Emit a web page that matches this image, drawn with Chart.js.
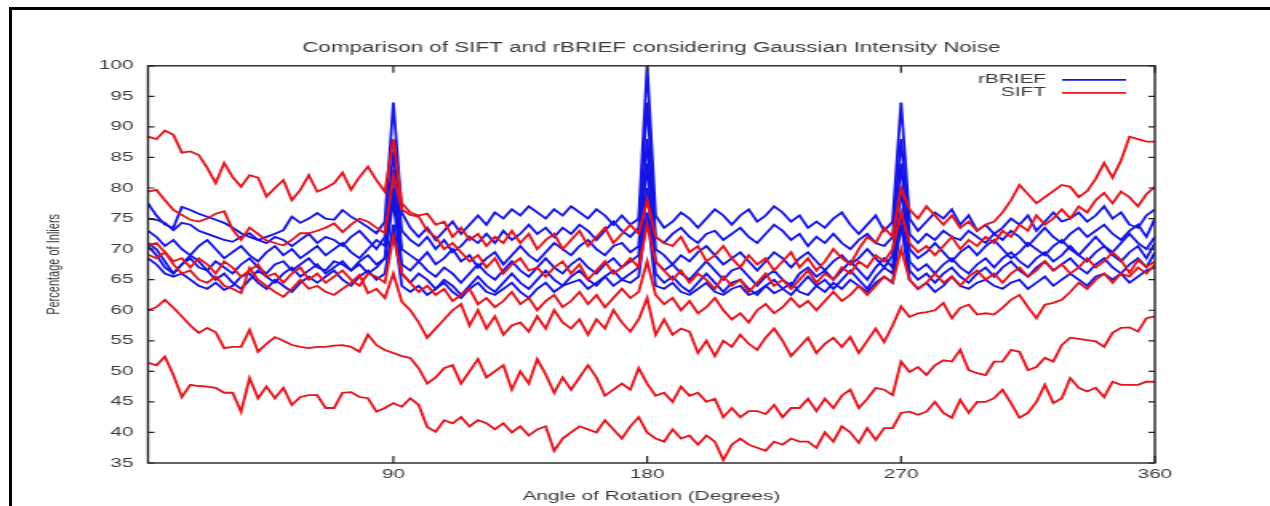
<!DOCTYPE html>
<html lang="en">
<head>
<meta charset="UTF-8">
<title>SIFT vs rBRIEF</title>
<script src="https://cdn.jsdelivr.net/npm/chart.js@4.4.1/dist/chart.umd.min.js"></script>
<style>
  html, body { margin: 0; padding: 0; background: #fff; overflow: hidden; }
  #wrap { position: relative; width: 1270px; height: 506px; }
  #canvas { position: absolute; left: 0; top: 0; }
  #frame { position: absolute; left: 9px; top: 7px; width: 1300px; height: 520px;
           border-left: 3px solid #000; border-top: 3px solid #000; pointer-events: none; }
</style>
</head>
<body>
<div id="wrap">
  <!-- drawn at 794px wide and stretched to 1270px, like the squeezed original -->
  <canvas id="canvas" width="794" height="506" style="width:1270px;height:506px;"></canvas>
  <div id="frame"></div>
</div>
<script>
const angles = [
  3, 6, 9, 12, 15, 18, 21, 24, 27, 30,
  33, 36, 39, 42, 45, 48, 51, 54, 57, 60,
  63, 66, 69, 72, 75, 78, 81, 84, 87, 90,
  93, 96, 99, 102, 105, 108, 111, 114, 117, 120,
  123, 126, 129, 132, 135, 138, 141, 144, 147, 150,
  153, 156, 159, 162, 165, 168, 171, 174, 177, 180,
  183, 186, 189, 192, 195, 198, 201, 204, 207, 210,
  213, 216, 219, 222, 225, 228, 231, 234, 237, 240,
  243, 246, 249, 252, 255, 258, 261, 264, 267, 270,
  273, 276, 279, 282, 285, 288, 291, 294, 297, 300,
  303, 306, 309, 312, 315, 318, 321, 324, 327, 330,
  333, 336, 339, 342, 345, 348, 351, 354, 357, 360
]

const xTicks = [90, 180, 270, 360]
const legendNames = ['rBRIEF', 'SIFT']

// SIFT runs, top to bottom
const sift1 = [
  88.4, 88.0, 89.4, 88.7, 85.8, 86.0, 85.4, 83.3, 80.8, 84.1,
  81.8, 80.2, 82.1, 81.7, 78.6, 80.0, 81.3, 78.0, 79.7, 82.1,
  79.4, 80.0, 80.8, 82.5, 79.7, 81.8, 83.5, 81.3, 79.4, 88.0,
  77.5, 76.0, 75.5, 75.8, 74.0, 74.5, 72.0, 73.5, 71.5, 72.5,
  70.5, 72.0, 71.0, 73.0, 71.0, 72.5, 70.0, 71.5, 72.5, 70.0,
  71.5, 73.0, 70.5, 72.0, 73.5, 71.0, 72.5, 74.0, 72.5, 78.0,
  72.0, 71.0, 70.5, 72.0, 69.5, 70.5, 68.0, 69.0, 70.5, 68.5,
  67.0, 69.0, 67.5, 68.5, 66.5, 68.0, 69.5, 67.0, 68.5, 66.5,
  68.0, 70.0, 68.5, 67.5, 70.0, 72.0, 71.0, 73.5, 72.0, 80.0,
  76.5, 75.0, 77.0, 75.5, 74.0, 75.5, 73.5, 74.5, 73.0, 74.0,
  74.5, 76.0, 78.0, 80.5, 79.0, 77.5, 78.5, 79.5, 80.5, 80.2,
  78.5, 79.5, 81.5, 84.1, 81.7, 84.5, 88.4, 88.0, 87.6, 87.6
]
const sift2 = [
  79.4, 79.7, 78.0, 76.4, 75.6, 74.8, 74.5, 75.0, 75.8, 76.2,
  73.2, 71.5, 73.5, 72.5, 71.4, 71.0, 70.6, 71.5, 72.6, 72.6,
  73.0, 73.5, 74.2, 72.8, 74.0, 75.0, 74.5, 73.5, 72.6, 82.0,
  76.5, 75.6, 75.3, 73.0, 72.0, 70.0, 71.0, 69.5, 68.0, 69.0,
  67.0, 68.5, 66.0, 67.5, 68.5, 66.5, 67.0, 65.5, 67.0, 68.0,
  66.0, 67.5, 65.0, 66.5, 68.0, 66.0, 67.0, 68.5, 67.0, 74.0,
  68.0, 66.5, 65.0, 66.5, 64.5, 66.0, 65.0, 63.5, 65.5, 64.0,
  65.0, 63.0, 64.5, 66.0, 64.0, 65.0, 63.5, 65.0, 66.5, 64.5,
  66.0, 65.0, 67.0, 66.0, 68.0, 67.0, 69.0, 68.0, 70.0, 76.0,
  71.0, 69.5, 70.5, 69.0, 70.5, 72.0, 70.0, 71.5, 70.5, 72.0,
  71.0, 73.0, 72.0, 74.0, 73.0, 75.5, 74.0, 75.0, 76.5, 75.0,
  77.0, 76.0, 78.0, 79.2, 77.5, 79.4, 78.5, 77.0, 79.0, 80.2
]
const sift3 = [
  70.7, 71.0, 69.5, 68.0, 68.5, 67.0, 68.5, 67.5, 66.0, 68.0,
  67.0, 65.5, 66.5, 67.5, 65.5, 66.0, 64.5, 66.0, 67.0, 65.0,
  66.0, 64.5, 65.5, 66.5, 65.0, 64.0, 66.0, 65.5, 64.5, 72.0,
  66.0, 64.5, 63.0, 64.0, 62.5, 63.5, 61.5, 62.5, 63.5, 61.0,
  62.0, 60.5, 61.5, 63.0, 61.0, 62.0, 60.0, 61.5, 62.5, 60.5,
  61.5, 63.0, 61.0, 62.5, 60.5, 62.0, 63.5, 62.0, 63.0, 68.0,
  62.5, 61.0, 62.0, 60.0, 61.5, 59.5, 60.5, 62.0, 60.0, 58.5,
  59.5, 58.0, 60.0, 61.0, 59.5, 60.5, 62.0, 60.5, 61.5, 60.0,
  61.5, 63.0, 61.5, 62.5, 64.0, 62.5, 64.0, 65.5, 64.5, 70.0,
  65.0, 63.5, 64.5, 66.0, 64.5, 65.5, 64.0, 65.5, 66.5, 65.0,
  66.0, 64.5, 66.0, 67.0, 65.5, 66.5, 68.0, 66.5, 67.5, 66.0,
  67.0, 68.5, 67.0, 68.0, 69.5, 68.2, 66.1, 68.2, 67.1, 68.0
]
const sift4 = [
  69.1, 68.5, 69.5, 67.5, 66.0, 66.5, 65.0, 64.5, 65.5, 64.0,
  63.5, 62.8, 66.9, 65.0, 64.0, 63.0, 62.2, 63.5, 65.0, 63.5,
  64.0, 63.0, 62.5, 63.5, 64.5, 65.8, 62.8, 63.5, 62.0, 66.0,
  61.4, 60.0, 58.0, 55.5, 57.0, 58.5, 60.0, 61.0, 57.5, 60.0,
  57.0, 59.0, 56.0, 57.5, 58.0, 56.5, 59.0, 57.0, 60.0, 58.0,
  57.0, 58.5, 56.0, 58.5, 57.0, 60.0, 58.0, 56.5, 58.5, 62.0,
  56.0, 58.5, 56.0, 57.0, 56.5, 53.0, 55.0, 52.5, 55.0, 54.0,
  56.0, 54.5, 53.5, 55.5, 57.0, 55.0, 52.5, 54.0, 55.5, 53.0,
  54.5, 55.5, 54.0, 55.6, 53.0, 55.0, 57.0, 54.8, 57.5, 60.6,
  58.9, 59.5, 59.7, 60.0, 61.2, 58.7, 60.4, 60.9, 59.3, 59.5,
  59.3, 60.4, 61.7, 62.5, 60.5, 58.7, 60.9, 61.2, 61.7, 63.0,
  64.5, 63.5, 65.0, 66.0, 64.5, 66.0, 65.5, 67.0, 66.0, 67.5
]
const sift5 = [
  60.0, 60.5, 61.7, 60.4, 59.0, 57.5, 56.3, 57.1, 56.4, 53.8,
  54.0, 54.0, 56.8, 53.2, 54.5, 55.6, 55.0, 54.3, 54.0, 53.8,
  54.0, 54.0, 54.2, 54.3, 54.0, 53.2, 56.0, 54.3, 53.5, 53.0,
  52.5, 52.2, 50.5, 48.0, 49.0, 50.5, 51.0, 48.0, 50.0, 52.0,
  49.0, 50.0, 51.0, 47.0, 50.0, 48.0, 52.0, 49.5, 46.5, 49.0,
  47.0, 49.0, 51.0, 49.0, 46.0, 47.0, 48.0, 47.0, 50.5, 48.0,
  46.0, 46.5, 45.0, 47.5, 46.0, 46.5, 45.0, 45.5, 42.5, 44.0,
  42.5, 43.5, 43.5, 43.0, 44.5, 42.5, 44.0, 44.0, 45.5, 43.5,
  45.5, 44.0, 46.0, 47.0, 44.0, 45.5, 47.3, 47.0, 46.1, 51.6,
  49.9, 50.7, 49.4, 51.0, 51.8, 51.6, 53.5, 50.2, 49.7, 49.4,
  51.6, 51.6, 53.5, 53.2, 50.2, 50.7, 52.2, 51.6, 54.3, 55.5,
  55.3, 55.1, 54.9, 54.0, 56.3, 57.1, 57.2, 56.5, 58.7, 59.0
]
const sift6 = [
  51.4, 51.0, 52.4, 49.4, 45.8, 47.8, 47.6, 47.5, 47.3, 46.5,
  46.5, 43.4, 48.9, 45.6, 47.5, 45.6, 47.3, 44.5, 45.8, 46.1,
  46.1, 44.0, 44.0, 46.5, 46.6, 45.8, 45.6, 43.4, 44.0, 44.8,
  44.2, 45.6, 44.5, 40.9, 40.1, 42.0, 41.5, 42.5, 41.0, 42.0,
  41.5, 40.5, 41.5, 40.0, 41.0, 39.5, 40.5, 41.0, 37.0, 39.0,
  40.0, 41.0, 40.5, 40.0, 42.0, 40.5, 39.0, 41.0, 42.5, 40.0,
  39.0, 38.5, 40.5, 39.0, 39.5, 38.0, 39.5, 38.5, 35.5, 38.0,
  39.0, 38.0, 37.5, 37.0, 38.5, 38.0, 39.0, 38.5, 38.5, 37.5,
  40.0, 38.5, 41.0, 40.0, 38.3, 40.7, 38.8, 40.7, 40.7, 43.2,
  43.4, 42.9, 43.4, 45.0, 43.2, 42.4, 45.3, 43.2, 45.0, 45.0,
  45.6, 47.0, 44.8, 42.4, 43.2, 45.0, 47.8, 44.8, 45.6, 48.9,
  47.3, 46.7, 47.3, 45.8, 48.3, 47.8, 47.8, 47.8, 48.3, 48.3
]

// rBRIEF runs
const brief1 = [
  77.5, 75.5, 74.0, 73.5, 76.9, 76.4, 75.8, 75.3, 74.8, 74.3,
  73.5, 72.6, 72.0, 71.5, 72.0, 72.5, 73.1, 75.3, 74.3, 75.0,
  75.9, 75.0, 74.8, 76.4, 75.3, 74.5, 73.6, 72.6, 74.5, 94.0,
  76.0, 73.5, 72.0, 73.5, 71.5, 73.0, 74.5, 72.5, 74.0, 75.5,
  74.0, 76.0, 75.0, 76.5, 75.5, 77.0, 76.0, 75.0, 76.5, 75.5,
  77.0, 76.0, 75.0, 76.5, 75.5, 74.0, 75.5, 74.0, 75.0, 100.0,
  75.5, 73.5, 74.5, 76.0, 75.0, 73.5, 75.0, 76.5, 75.5, 74.0,
  75.5, 76.5, 74.5, 75.5, 77.0, 76.0, 74.5, 75.5, 73.5, 74.5,
  73.5, 75.0, 76.0, 74.0, 72.5, 74.0, 75.5, 73.0, 74.5, 94.0,
  75.0, 73.0, 74.5, 76.0, 75.0, 76.5, 74.0, 75.5, 73.0, 74.0,
  72.5, 73.5, 75.0, 74.0, 75.5, 73.0, 74.5, 76.0, 74.5, 75.0,
  76.0, 74.5, 75.5, 77.0, 75.0, 76.0, 74.0, 73.5, 75.5, 76.5
]
const brief2 = [
  75.0, 74.8, 74.3, 73.1, 74.3, 74.0, 73.0, 72.5, 72.0, 71.5,
  71.2, 72.0, 72.6, 71.5, 71.0, 72.0, 71.5, 70.5, 71.5, 72.5,
  71.0, 72.0, 71.5, 70.5, 72.0, 73.0, 71.5, 70.0, 72.0, 86.0,
  73.0, 71.5, 70.5, 72.0, 70.0, 71.5, 69.5, 70.5, 72.0, 71.0,
  72.5, 71.0, 73.0, 71.5, 72.5, 74.0, 72.5, 73.5, 72.0, 73.5,
  72.5, 74.0, 73.0, 71.5, 73.0, 74.5, 73.0, 72.0, 73.5, 94.0,
  72.0, 71.0, 72.5, 73.5, 72.0, 71.0, 72.5, 73.0, 71.5, 72.5,
  73.5, 72.0, 71.0, 72.5, 74.0, 73.0, 71.5, 72.5, 70.5, 72.0,
  71.0, 72.5, 71.0, 70.0, 71.5, 72.5, 71.0, 70.5, 72.0, 88.0,
  72.5, 71.0, 72.5, 71.5, 73.0, 72.0, 71.5, 73.0, 72.0, 71.0,
  72.5, 71.5, 73.0, 72.0, 70.5, 72.0, 73.5, 72.0, 71.0, 72.5,
  73.5, 72.0, 73.0, 74.0, 72.5, 71.5, 73.0, 74.0, 72.0, 75.0
]
const brief3 = [
  73.0, 72.0, 70.5, 71.5, 70.0, 69.0, 70.5, 71.5, 70.0, 68.5,
  69.5, 70.5, 69.0, 68.0, 69.5, 70.5, 69.0, 70.0, 68.5, 69.5,
  70.5, 69.0, 70.0, 71.0, 69.5, 68.5, 70.0, 71.5, 70.5, 83.0,
  70.0, 69.0, 68.0, 69.5, 67.5, 68.5, 70.0, 68.0, 69.0, 67.0,
  68.5, 69.5, 67.5, 69.0, 70.5, 69.0, 68.0, 69.5, 71.0, 70.0,
  69.0, 70.5, 71.5, 70.0, 69.0, 70.5, 71.0, 69.5, 70.5, 88.0,
  70.0, 69.0, 67.5, 69.0, 68.0, 69.5, 70.5, 69.0, 67.5, 68.5,
  69.5, 68.0, 66.5, 68.0, 69.5, 68.5, 67.0, 68.5, 69.5, 68.0,
  66.5, 68.0, 69.0, 67.5, 68.5, 70.0, 68.5, 67.0, 69.0, 84.0,
  70.0, 68.5, 69.5, 71.0, 69.5, 68.0, 69.5, 70.5, 69.0, 70.5,
  71.5, 70.0, 68.5, 69.5, 71.0, 70.0, 69.0, 70.5, 71.5, 70.0,
  69.0, 70.5, 72.0, 70.5, 69.5, 71.0, 72.5, 71.0, 70.0, 72.0
]
const brief4 = [
  71.0, 70.0, 68.0, 66.0, 67.5, 68.5, 67.0, 66.5, 68.0, 67.0,
  66.0, 67.5, 68.5, 67.0, 66.0, 67.5, 68.0, 66.5, 67.5, 68.5,
  67.0, 66.5, 68.0, 67.5, 66.5, 68.0, 69.0, 67.5, 68.5, 80.0,
  67.5, 66.5, 68.0, 66.5, 65.5, 67.0, 66.0, 64.5, 66.0, 67.5,
  66.0, 65.0, 66.5, 68.0, 66.5, 65.5, 67.0, 68.5, 67.0, 66.0,
  67.5, 68.5, 67.0, 66.0, 67.5, 68.5, 67.0, 68.0, 69.0, 84.0,
  68.0, 66.5, 67.5, 66.0, 65.0, 66.5, 68.0, 66.5, 65.0, 66.5,
  67.0, 65.5, 64.0, 65.5, 66.5, 65.0, 64.0, 66.0, 67.0, 65.5,
  66.5, 65.0, 66.5, 68.0, 66.5, 65.0, 67.0, 68.5, 67.0, 80.0,
  68.0, 66.5, 67.5, 66.0, 67.5, 68.5, 67.0, 66.0, 67.5, 68.5,
  67.0, 68.5, 69.5, 68.0, 67.0, 68.5, 69.5, 68.0, 69.0, 70.5,
  69.0, 68.0, 69.5, 70.5, 69.0, 68.0, 69.5, 70.5, 68.5, 71.0
]
const brief5 = [
  70.5, 69.0, 67.0, 66.0, 67.5, 69.0, 68.0, 66.5, 65.0, 66.0,
  64.5, 63.5, 65.0, 66.5, 65.5, 64.5, 66.0, 67.0, 65.5, 66.5,
  67.5, 66.0, 67.0, 68.0, 66.5, 67.5, 66.0, 67.0, 68.5, 78.0,
  66.0, 64.5, 66.0, 65.0, 63.5, 65.0, 64.0, 62.5, 64.0, 65.5,
  64.0, 63.0, 64.5, 66.0, 64.5, 63.5, 65.0, 66.5, 65.0, 64.0,
  65.5, 66.5, 65.0, 64.0, 65.5, 66.5, 65.0, 66.0, 67.0, 80.0,
  66.0, 64.5, 65.5, 64.0, 63.0, 64.5, 66.0, 64.5, 63.0, 64.5,
  65.0, 63.5, 62.5, 64.0, 65.0, 63.5, 62.5, 64.0, 65.5, 64.0,
  65.0, 63.5, 65.0, 66.5, 65.0, 63.5, 65.5, 67.0, 66.0, 76.0,
  66.5, 65.0, 66.0, 64.5, 66.0, 67.0, 65.5, 64.5, 66.0, 67.0,
  65.5, 67.0, 68.0, 66.5, 65.5, 67.0, 68.0, 66.5, 67.5, 68.5,
  67.0, 66.0, 67.5, 68.5, 67.0, 66.0, 67.5, 68.5, 67.0, 69.5
]
const brief6 = [
  68.5, 67.5, 66.0, 65.5, 66.0, 65.0, 64.0, 63.5, 64.5, 63.3,
  64.0, 65.5, 66.0, 64.5, 63.5, 65.0, 64.0, 63.0, 64.5, 65.5,
  64.5, 65.5, 66.5, 65.0, 64.0, 65.5, 66.5, 65.0, 66.0, 74.0,
  64.0, 63.0, 64.0, 62.5, 63.5, 64.5, 63.0, 62.0, 63.5, 64.5,
  63.0, 62.5, 63.5, 64.5, 63.0, 62.0, 63.5, 64.5, 63.0, 64.0,
  64.5, 65.0, 63.5, 64.5, 65.5, 64.0, 65.0, 64.5, 65.5, 76.0,
  64.0, 63.5, 64.5, 63.0, 62.5, 63.5, 64.5, 63.0, 62.5, 63.5,
  64.0, 62.5, 63.0, 64.0, 62.8, 63.5, 64.5, 63.0, 62.5, 64.0,
  63.0, 64.5, 63.5, 65.0, 64.0, 63.0, 64.5, 65.5, 64.5, 74.0,
  65.0, 63.5, 64.5, 63.0, 64.0, 65.5, 64.0, 63.5, 64.5, 65.0,
  64.0, 63.5, 64.5, 65.0, 63.5, 64.5, 65.5, 64.0, 65.0, 66.0,
  65.0, 64.0, 65.5, 66.0, 65.0, 66.0, 64.5, 65.5, 66.5, 67.0
]

const siftRuns = [sift1, sift2, sift3, sift4, sift5, sift6]
const briefRuns = [brief1, brief2, brief3, brief4, brief5, brief6]

const RED = '#e3141c'
const BLUE = '#1414e4'
const TEXT = '#3a3a3a'
const FONT = "'Liberation Sans', Arial, sans-serif"

const toPoints = (vals) => vals.map((v, i) => ({x: angles[i], y: v}))

// red drawn on top (chart.js paints dataset 0 last)
const datasets = []
siftRuns.forEach(r => datasets.push({label: legendNames[1], data: toPoints(r), borderColor: RED}))
briefRuns.forEach(r => datasets.push({label: legendNames[0], data: toPoints(r), borderColor: BLUE}))

const frameAndKey = {
    id: 'frameAndKey',
    afterDatasetsDraw(chart) {
        const {ctx, chartArea: a, scales: {x, y}} = chart
        ctx.save()
        ctx.strokeStyle = '#222'
        ctx.lineWidth = 1.4
        ctx.strokeRect(a.left, a.top, a.right - a.left, a.bottom - a.top)

        // gnuplot style inward ticks on all four sides
        ctx.lineWidth = 1.2
        ctx.beginPath()
        y.ticks.forEach(t => {
            const py = y.getPixelForValue(t.value)
            ctx.moveTo(a.left, py); ctx.lineTo(a.left + 4, py)
            ctx.moveTo(a.right, py); ctx.lineTo(a.right - 4, py)
        })
        x.ticks.forEach(t => {
            const px = x.getPixelForValue(t.value)
            ctx.moveTo(px, a.bottom); ctx.lineTo(px, a.bottom - 7)
            ctx.moveTo(px, a.top); ctx.lineTo(px, a.top + 7)
        })
        ctx.stroke()

        // key: text right aligned, then a line sample
        const keyColors = [BLUE, RED]
        ctx.font = `13px ${FONT}`
        ctx.textAlign = 'right'
        ctx.textBaseline = 'middle'
        legendNames.forEach((name, i) => {
            const ky = a.top + 14 + i * 13
            ctx.fillStyle = TEXT
            ctx.fillText(name, a.right - 68, ky)
            ctx.strokeStyle = keyColors[i]
            ctx.lineWidth = 1.8
            ctx.beginPath()
            ctx.moveTo(a.right - 58, ky)
            ctx.lineTo(a.right - 18, ky)
            ctx.stroke()
        })
        ctx.restore()
    }
}

new Chart(document.getElementById('canvas').getContext('2d'), {
    type: 'line',
    data: {datasets: datasets},
    options: {
        responsive: false,
        animation: false,
        devicePixelRatio: 1,
        layout: {padding: {right: 72}},
        elements: {
            point: {radius: 0, hoverRadius: 0},
            line: {borderWidth: 1.8, tension: 0, fill: false}
        },
        plugins: {
            legend: {display: false},
            tooltip: {enabled: false},
            title: {
                display: true,
                fullSize: false,
                text: 'Comparison of SIFT and rBRIEF considering Gaussian Intensity Noise',
                color: TEXT,
                font: {family: FONT, size: 14, weight: 'normal'},
                padding: {top: 40, bottom: 9}
            }
        },
        scales: {
            x: {
                type: 'linear',
                min: 3,
                max: 360,
                grid: {display: false, drawTicks: false, tickLength: 0},
                border: {display: false},
                afterBuildTicks: (s) => { s.ticks = xTicks.map(v => ({value: v})) },
                afterFit: (s) => { s.height = 43 },
                ticks: {padding: 4, color: TEXT, font: {family: FONT, size: 13}, maxRotation: 0, autoSkip: false},
                title: {
                    display: true,
                    text: 'Angle of Rotation (Degrees)',
                    color: TEXT,
                    font: {family: FONT, size: 13},
                    padding: {top: 4, bottom: 2}
                }
            },
            y: {
                min: 35,
                max: 100,
                grid: {display: false, drawTicks: false, tickLength: 0},
                border: {display: false},
                afterFit: (s) => { s.width = 92.5 },
                ticks: {stepSize: 5, padding: 9, color: TEXT, font: {family: FONT, size: 13}},
                title: {
                    display: true,
                    text: 'Percentage of Inliers',
                    color: TEXT,
                    font: {family: FONT, size: 11},
                    padding: {top: 27, bottom: 0}
                }
            }
        }
    },
    plugins: [frameAndKey]
})
</script>
</body>
</html>
